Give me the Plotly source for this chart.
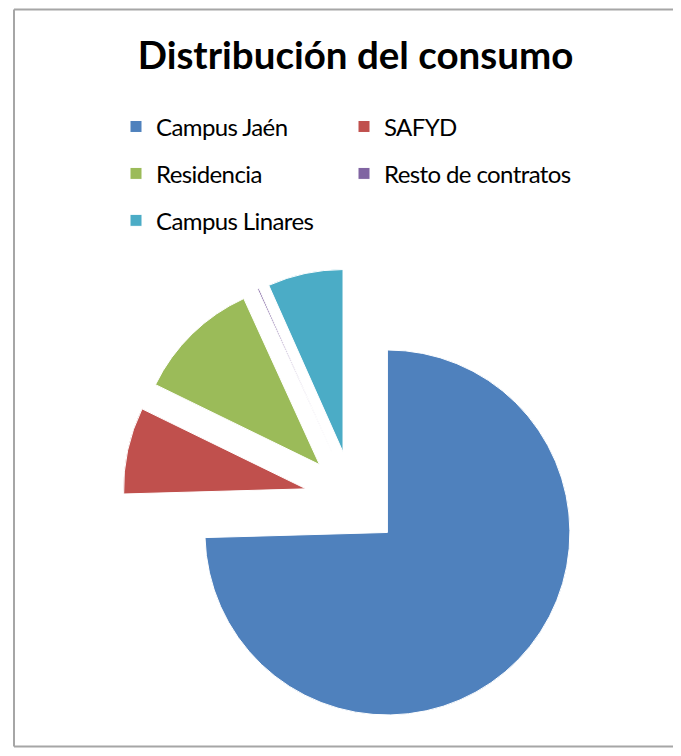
import plotly.graph_objects as go

categories = ["Campus Jaén", "SAFYD", "Residencia", "Resto de contratos", "Campus Linares"]
values = [74.56, 7.67, 10.97, 0.14, 6.67]
colors = ["#4F81BD", "#C0504D", "#9BBB59", "#8064A2", "#4BACC6"]
title_text = "Distribución del consumo"

# The page body has an 8px default margin, so the figure is kept inside the
# window and all positions are given relative to that offset.
W, H = 665, 740
OFF = 8

def px_x(x):
    return (x - OFF) / W

def px_y(y):
    return 1 - (y - OFF) / H

# legend labels: larger legend font size gives the row pitch,
# span sets the visible text size
legend_labels = [
    '<span style="font-size:24px;letter-spacing:-0.6px;baseline-shift:4px">' + c + "</span>"
    for c in categories
]

# pie geometry (reference pixels)
cx, cy, r, pull = 353, 499, 182.5, 0.263
half = r * (1 + pull)

fig = go.Figure(
    go.Pie(
        labels=legend_labels,
        values=values,
        sort=False,
        direction="clockwise",
        rotation=0,
        pull=[pull] * len(values),
        marker=dict(colors=colors, line=dict(color="#ffffff", width=1)),
        textinfo="none",
        hoverinfo="label+percent",
        domain=dict(
            x=[px_x(cx - half), px_x(cx + half)],
            y=[px_y(cy + half), px_y(cy - half)],
        ),
    )
)

# chart frame: top, left and bottom edges (right edge lies outside the view)
fx0, fx1 = px_x(14), 1.0
fy0, fy1 = px_y(746.5), px_y(9.5)
frame_style = dict(color="#a6a6a6", width=2)
frame = [
    dict(type="line", xref="paper", yref="paper", x0=fx0, x1=fx1, y0=fy1, y1=fy1, line=frame_style, layer="below"),
    dict(type="line", xref="paper", yref="paper", x0=fx0, x1=fx1, y0=fy0, y1=fy0, line=frame_style, layer="below"),
    dict(type="line", xref="paper", yref="paper", x0=fx0, x1=fx0, y0=fy0, y1=fy1, line=frame_style, layer="below"),
]

fig.update_layout(
    width=W,
    height=H,
    margin=dict(l=0, r=0, t=0, b=0),
    paper_bgcolor="#ffffff",
    font=dict(family="Lato, 'Open Sans', sans-serif", color="#000000"),
    title=dict(
        text="<b>" + title_text + "</b>",
        font=dict(size=38.5, family="Lato, sans-serif", color="#000000"),
        x=px_x(355.5),
        xanchor="center",
        xref="paper",
        yref="container",
        y=px_y(56),
        yanchor="middle",
    ),
    legend=dict(
        orientation="h",
        x=px_x(116),
        xanchor="left",
        y=px_y(98),
        yanchor="top",
        entrywidth=183,
        entrywidthmode="pixels",
        font=dict(size=33.8, family="Lato, sans-serif", color="#000000"),
        bgcolor="rgba(0,0,0,0)",
    ),
    shapes=frame,
)

fig.write_html("out.html")
